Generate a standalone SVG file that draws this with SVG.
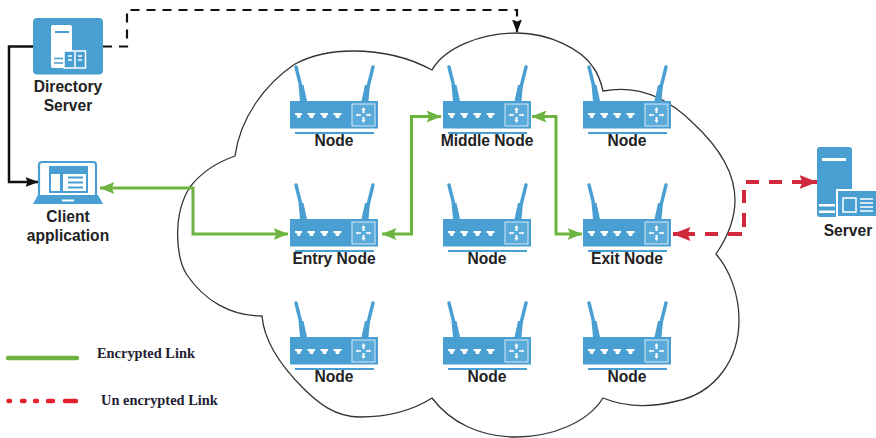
<svg xmlns="http://www.w3.org/2000/svg" width="876" height="438" viewBox="0 0 876 438">
<style>
.l{font-family:"Liberation Sans",Arial,sans-serif;font-weight:700;font-size:15.6px;fill:#222;text-anchor:middle}
.s{font-family:"Liberation Serif","Times New Roman",serif;font-weight:700;font-size:14.4px;fill:#223}
.g{fill:none;stroke:#6cb33f;stroke-width:3}
.r{fill:none;stroke:#d12a3c;stroke-width:4}
.b{fill:none;stroke:#111;stroke-width:2.5}
.d{fill:none;stroke:#111;stroke-width:2.2;stroke-dasharray:9 7}
.bl{fill:#4a9fd2}
.w{fill:#fff}
</style>
<defs>
<marker id="ag" markerUnits="userSpaceOnUse" markerWidth="15" markerHeight="12" refX="14.500" refY="6" orient="auto-start-reverse"><path d="M0 0L15 6L0 12L3 6Z" fill="#6cb33f"/></marker>
<marker id="ar" markerUnits="userSpaceOnUse" markerWidth="18" markerHeight="14" refX="17.500" refY="7" orient="auto-start-reverse"><path d="M0 0L18 7L0 14L3 7Z" fill="#d12a3c"/></marker>
<marker id="ak" markerUnits="userSpaceOnUse" markerWidth="13" markerHeight="10" refX="12.500" refY="5" orient="auto"><path d="M0 0L13 5L0 10L2 5Z" fill="#111"/></marker>
<g id="router">
<path d="M6 -34L11 -14M83 -34L78 -14" fill="none" stroke="#4a9fd2" stroke-width="3.400" stroke-linecap="round"/>
<path d="M8.500 -16H13.500L17 0H10ZM80 -16H75L71.500 0H78.500Z" class="bl"/>
<rect width="88" height="27.500" class="bl"/>
<rect x="5" y="31" width="79" height="2" class="bl"/>
<path d="M5 12H12V14H11L10 17H7.500L6.500 14H5Z M17.500 12H25V14H24L23 17H20L19 14H17.500Z M30.500 12H38V14H37L36 17H33L32 14H30.500Z M43.500 12H51.500V14H50L49 17H46L45 14H43.500Z" class="w"/>
<rect x="62" y="3" width="23" height="22" fill="#5aabd9" stroke="#d4e9f5" stroke-width="1"/>
<path d="M73.500 6L75.500 9H74.500V12H72.500V9H71.500ZM73.500 22L75.500 19H74.500V16H72.500V19H71.500ZM65.500 14L68 12.500V13.200H71V14.800H68V15.500ZM81.500 14L79 12.500V13.200H76V14.800H79V15.500Z" class="w"/>
</g>
</defs>

<path id="cloud" d="M235 156C240 118 265 84 295 64C312 55 333 51 353 51C382 51 410 58 432 70C445 47 482 33 517 33C550 33 582 50 593 67C598 74 601 82 603 91C640 84 670 100 693 123C720 148 735 175 735 200C735 220 727 238 716 254C730 270 739 295 739 320C739 360 715 393 677 401C650 408 625 407 603 398C588 422 553 437 515 437C480 437 450 422 432 398C410 412 385 417 360 417C335 417 318 403 303 388C280 365 264 340 262 316C230 316 204 300 187 275C176 258 172 215 190 187C200 174 215 163 235 156Z" fill="#fff" stroke="#333" stroke-width="1.300"/>

<g id="connectors">
<path class="b" d="M33 46.500H9V182H38" marker-end="url(#ak)"/>
<path class="d" d="M103 46.500H127V10H517V32" marker-end="url(#ak)"/>
<path class="g" d="M100 188H193V234H288" marker-start="url(#ag)" marker-end="url(#ag)"/>
<path class="g" d="M382 234H411.500V116.500H441" marker-start="url(#ag)" marker-end="url(#ag)"/>
<path class="g" d="M532 116.500H556V234H582" marker-start="url(#ag)" marker-end="url(#ag)"/>
<path class="r" d="M673 234H695M705 234H718M728 234H742M744 227V213M744 203V190M746 182H759M769 182H782M792 182H817" marker-start="url(#ar)" marker-end="url(#ar)"/>
</g>

<g id="directory-server">
<rect x="33" y="18" width="70" height="56.500" rx="4" class="bl"/>
<rect x="51" y="25" width="21" height="43" rx="2" class="w"/>
<rect x="55" y="31" width="14" height="2" class="bl"/>
<path d="M54 58.500H63M54 63H63" stroke="#4a9fd2" stroke-width="1.500"/>
<rect x="64" y="51" width="21.500" height="17" fill="#4a9fd2" stroke="#fff" stroke-width="1.500"/>
<path d="M75 52V67M68 56H72M68 60H72M78 56H82M78 60H82" stroke="#fff" stroke-width="1.500"/>
<text class="l" x="68" y="92">Directory</text>
<text class="l" x="68" y="111">Server</text>
</g>

<g id="client-application">
<rect x="39" y="162" width="57" height="36" rx="3" fill="#fff" stroke="#4a9fd2" stroke-width="2.200"/>
<rect x="49" y="166" width="39" height="27" class="bl"/>
<rect x="51" y="174" width="9" height="17" class="w"/>
<rect x="63" y="174" width="23" height="17" class="w"/>
<path d="M68 177.500H83M68 182.500H83M68 187.500H83" stroke="#4a9fd2" stroke-width="2"/>
<path d="M38 195H98L103 204H33Z" class="bl"/>
<rect x="62" y="199.500" width="12" height="2" class="w"/>
<text class="l" x="68" y="222">Client</text>
<text class="l" x="68" y="241">application</text>
</g>

<g id="node-1"><use href="#router" x="290" y="101"/><text class="l" x="334" y="146">Node</text></g>
<g id="node-middle"><use href="#router" x="443" y="101"/><text class="l" x="487" y="146">Middle Node</text></g>
<g id="node-3"><use href="#router" x="583" y="101"/><text class="l" x="627" y="146">Node</text></g>
<g id="node-entry"><use href="#router" x="290" y="219"/><text class="l" x="334" y="264">Entry Node</text></g>
<g id="node-5"><use href="#router" x="443" y="219"/><text class="l" x="487" y="264">Node</text></g>
<g id="node-exit"><use href="#router" x="583" y="219"/><text class="l" x="627" y="264">Exit Node</text></g>
<g id="node-7"><use href="#router" x="290" y="337"/><text class="l" x="334" y="382">Node</text></g>
<g id="node-8"><use href="#router" x="443" y="337"/><text class="l" x="487" y="382">Node</text></g>
<g id="node-9"><use href="#router" x="583" y="337"/><text class="l" x="627" y="382">Node</text></g>

<g id="server">
<rect x="817" y="147" width="35" height="70" rx="3" class="bl"/>
<rect x="822" y="158" width="24" height="3" class="w"/>
<rect x="819" y="204" width="16" height="2.500" class="w"/>
<rect x="819" y="210.500" width="16" height="2.500" class="w"/>
<rect x="837" y="190" width="41" height="27" fill="#4a9fd2" stroke="#fff" stroke-width="2"/>
<rect x="843" y="198" width="13" height="14" class="bl" stroke="#fff" stroke-width="1.500"/>
<path d="M860 199H873M860 203H873M860 207H873M860 211H873" stroke="#fff" stroke-width="1.500"/>
<text class="l" x="848" y="236">Server</text>
</g>

<g id="legend">
<path d="M8 358H77" stroke="#6cb33f" stroke-width="4.500" stroke-linecap="round"/>
<path d="M8.500 401H10M22 401H24.500M35 401H37M48 401H53M65 401H76" stroke="#e5202e" stroke-width="4.500" stroke-linecap="round"/>
<text class="s" x="97" y="358">Encrypted Link</text>
<text class="s" x="101" y="405">Un encrypted Link</text>
</g>
</svg>
